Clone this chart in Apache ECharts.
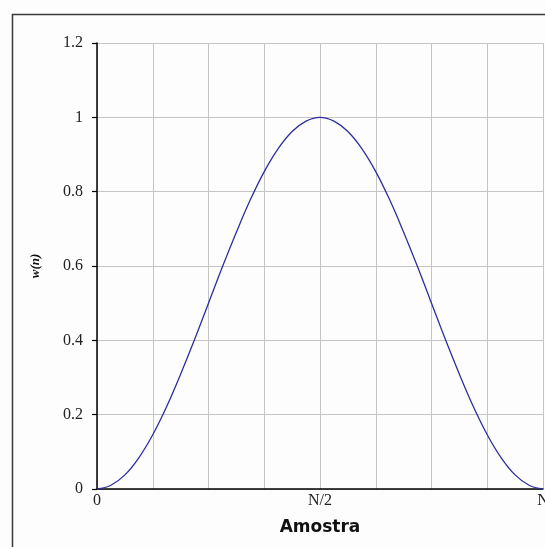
<!DOCTYPE html>
<html>
<head>
<meta charset="utf-8">
<script src="https://cdn.jsdelivr.net/npm/echarts@6/dist/echarts.min.js"></script>
<style>
html,body{margin:0;padding:0;background:#fdfdfd;}
#chart{width:545px;height:547px;}
</style>
</head>
<body>
<div id="chart"></div>
<script>
// sample positions (in grid units, 0..8 = 0..N)
var samplePos = [0,0.25,0.5,0.75,1,1.25,1.5,1.75,2,2.25,2.5,2.75,3,3.25,3.5,3.75,4,
                 4.25,4.5,4.75,5,5.25,5.5,5.75,6,6.25,6.5,6.75,7,7.25,7.5,7.75,8];
// w(n) values
var wValues = [0,0.010,0.038,0.084,0.146,0.222,0.309,0.402,0.500,0.598,0.691,0.778,0.854,0.916,0.962,0.990,1.0,
               0.990,0.962,0.916,0.854,0.778,0.691,0.598,0.500,0.402,0.309,0.222,0.146,0.084,0.038,0.010,0];
var xTickLabels = ['0','','','','N/2','','','','N'];
var yTickLabels = ['0','0.2','0.4','0.6','0.8','1','1.2'];

var chart = echarts.init(document.getElementById('chart'), null, {renderer:'canvas'});
var data = samplePos.map(function(x,i){return [x,wValues[i]];});
chart.setOption({
  backgroundColor:'#fdfdfd',
  animation:false,
  graphic:[{
    type:'rect', left:10, top:12, silent:true,
    shape:{x:0,y:0,width:600,height:600},
    style:{fill:'none',stroke:'#3a3a3a',lineWidth:1.5}
  }],
  grid:{left:97,top:43,right:2,bottom:58,containLabel:false,outerBoundsMode:'none'},
  xAxis:{
    type:'value', min:0, max:8, interval:1,
    name:'Amostra', nameLocation:'middle', nameGap:30,
    nameTextStyle:{fontFamily:'DejaVu Sans',fontWeight:'bold',fontSize:17,color:'#111'},
    axisLine:{show:true,onZero:false,lineStyle:{color:'#000',width:1.5}},
    axisTick:{show:false},
    axisLabel:{margin:4,fontFamily:'Liberation Serif',fontSize:16,color:'#222',
      formatter:function(v){return xTickLabels[Math.round(v)]||'';}},
    splitLine:{show:true,lineStyle:{color:'#c4c4c4',width:1}}
  },
  yAxis:{
    type:'value', min:0, max:1.2, interval:0.2,
    name:'w(n)', nameLocation:'middle', nameGap:55, nameRotate:90,
    nameTextStyle:{fontFamily:'Liberation Serif',fontStyle:'italic',fontWeight:'bold',fontSize:13,color:'#111'},
    axisLine:{show:true,lineStyle:{color:'#000',width:1.5}},
    axisTick:{show:true,length:5,lineStyle:{color:'#000',width:1.2}},
    axisLabel:{margin:14,fontFamily:'Liberation Serif',fontSize:16,color:'#222',
      formatter:function(v){return yTickLabels[Math.round(v/0.2)];}},
    splitLine:{show:true,lineStyle:{color:'#c4c4c4',width:1}}
  },
  series:[{
    type:'line', data:data, smooth:0.4, showSymbol:false,
    lineStyle:{color:'#2e2e9c',width:1.3}
  }]
});
</script>
</body>
</html>
